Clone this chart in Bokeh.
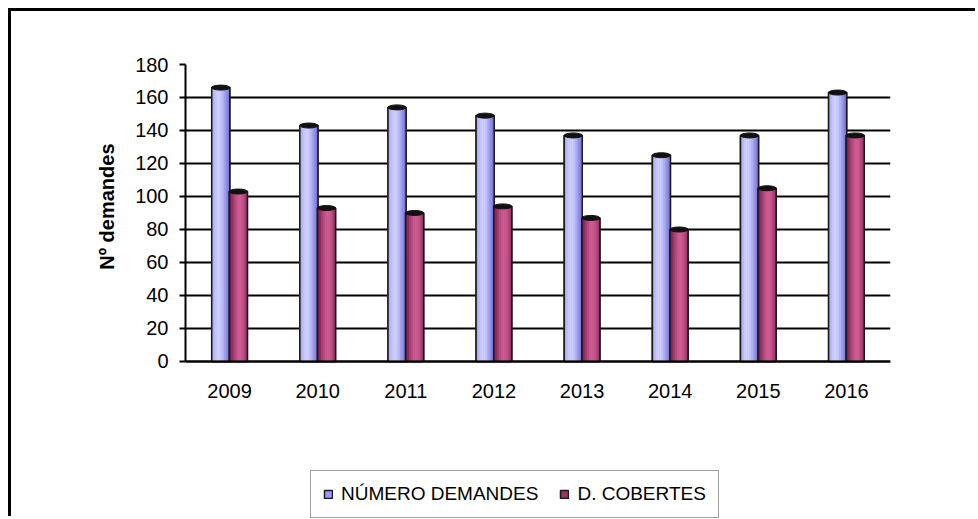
import math
from bokeh.plotting import figure
from bokeh.models import (ColumnDataSource, FactorRange, Range1d, FixedTicker,
                          Legend, LegendItem, Title)
from bokeh.transform import dodge
from bokeh.embed import file_html
from bokeh.resources import INLINE

# ---- data ----
years = ["2009", "2010", "2011", "2012", "2013", "2014", "2015", "2016"]
numero_demandes = [166, 143, 154, 149, 137, 125, 137, 163]
d_cobertes = [103, 93, 90, 94, 87, 80, 105, 137]
y_ticks = [0, 20, 40, 60, 80, 100, 120, 140, 160, 180]
series_labels = ["NÚMERO DEMANDES", "D. COBERTES"]
y_axis_title = "Nº demandes"

source = ColumnDataSource(dict(year=years, numero=numero_demandes, cobertes=d_cobertes))

FONT = "Liberation Sans"

# plot frame extends below the value axis so the legend can sit under the chart
Y_MAX = 180
Y_LOW = -95.8

p = figure(x_range=FactorRange(*years), y_range=Range1d(Y_LOW, Y_MAX),
           width=967, height=508, output_backend="svg", toolbar_location=None,
           min_border_left=174, min_border_top=53, min_border_right=88, min_border_bottom=0)
p.styles = {"border-top": "3px solid black", "border-left": "3px solid black",
            "margin-left": "8px", "margin-top": "8px"}
p.outline_line_color = None
p.background_fill_color = "white"
p.border_fill_color = "white"

# grid
p.xgrid.grid_line_color = None
p.ygrid.grid_line_color = "black"
p.ygrid.grid_line_width = 2
p.yaxis.ticker = FixedTicker(ticks=y_ticks)
p.yaxis.bounds = (0, Y_MAX)
p.xaxis.fixed_location = 0

# axes
for ax in (p.xaxis[0], p.yaxis[0]):
    ax.axis_line_color = "black"
    ax.axis_line_width = 2
    ax.major_label_text_font = FONT
    ax.major_label_text_font_size = "20px"
    ax.major_label_text_color = "black"
    ax.minor_tick_line_color = None
p.xaxis.major_tick_line_color = None
p.xaxis.major_label_standoff = 17
p.yaxis.major_tick_line_color = "black"
p.yaxis.major_tick_line_width = 2
p.yaxis.major_tick_out = 6
p.yaxis.major_tick_in = 0
p.yaxis.major_label_standoff = 11

# value-axis title, aligned with the 0..180 part of the axis
ytitle = Title(text=y_axis_title, align="right", offset=79, standoff=30,
               vertical_align="bottom",
               text_font=FONT, text_font_size="20px", text_font_style="bold",
               text_color="black")
p.add_layout(ytitle, "left")


def hexc(r, g, b):
    return "#%02x%02x%02x" % (int(round(r)), int(round(g)), int(round(b)))


def shades(dark, light, peak, n):
    out = []
    for k in range(n):
        t = (k + 0.5) / n
        d = abs(t - peak) / max(peak, 1 - peak)
        f = math.cos(d * math.pi / 2) ** 1.5
        out.append(hexc(*[dark[i] + (light[i] - dark[i]) * f for i in range(3)]))
    return out


W = 0.205
N = 10
specs = [
    ("numero", -0.1, (118, 118, 214), (206, 206, 255), 0.38),
    ("cobertes", 0.1, (118, 30, 78), (206, 92, 146), 0.58),
]
base_colors = ["#9999ff", "#993366"]
legend_renderers = []
for (col, off, dark, light, peak), bc in zip(specs, base_colors):
    base = p.vbar(x=dodge("year", off, range=p.x_range), top=col, width=W, source=source,
                  fill_color=bc, line_color="#1a1a1a", line_width=1.5)
    legend_renderers.append(base)
    cols = shades(dark, light, peak, N)
    for k in range(N):
        o = off - W / 2 + (k + 0.5) * W / N
        p.vbar(x=dodge("year", o, range=p.x_range), top=col, width=W / N * 1.2, source=source,
               fill_color=cols[k], line_color=None)
    p.vbar(x=dodge("year", off, range=p.x_range), top=col, width=W, source=source,
           fill_color=None, line_color="#1a1a1a", line_width=1.5)
    p.ellipse(x=dodge("year", off, range=p.x_range), y=col, width=W, height=5,
              height_units="screen", source=source, fill_color="#111111", line_color="#111111")

legend = Legend(items=[LegendItem(label=series_labels[i], renderers=[legend_renderers[i]])
                       for i in range(2)],
                location=(125, 1), orientation="horizontal",
                glyph_width=10, glyph_height=10, label_standoff=8, spacing=21,
                padding=12, margin=0,
                label_text_font=FONT, label_text_font_size="19px", label_text_color="black",
                border_line_color="#444444", border_line_width=1,
                background_fill_color="white", background_fill_alpha=1)
p.add_layout(legend, "center")

open("out.html", "w").write(file_html(p, INLINE))
